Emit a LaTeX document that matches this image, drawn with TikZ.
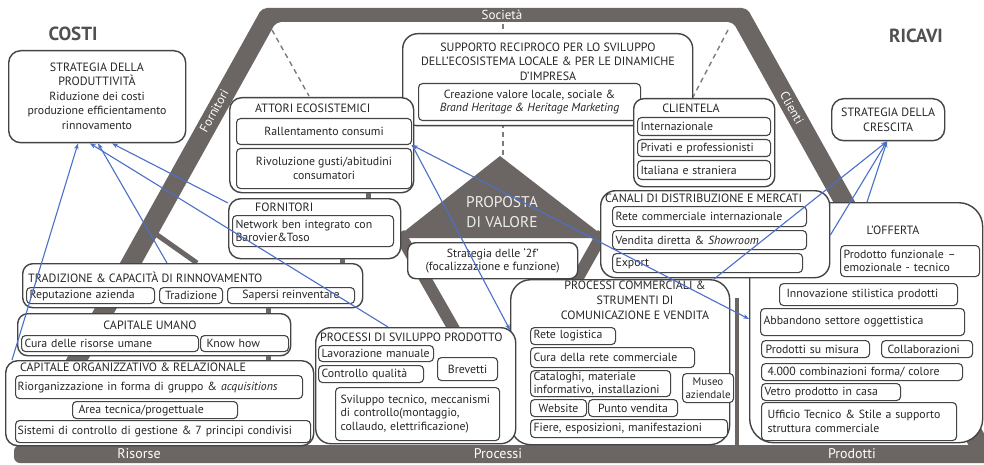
\documentclass[tikz,border=0pt]{standalone}
\usepackage{fontspec}
\setmainfont{PT Sans}
\usetikzlibrary{arrows.meta}
\definecolor{bandgray}{HTML}{6B6663}
\definecolor{ink}{HTML}{262626}
\definecolor{edgegray}{HTML}{444444}
\definecolor{flowblue}{HTML}{4A70C8}
\definecolor{guidegray}{HTML}{7C7C7C}
\definecolor{headgray}{HTML}{505050}
\newcommand{\fb}{\fontsize{11.8}{13.5}\selectfont}
\newcommand{\ft}{\fontsize{12}{14.5}\selectfont}
\begin{document}
\begin{tikzpicture}[x=1pt,y=-1pt,
  outer/.style={draw=edgegray, line width=1.4pt, fill=white, rounded corners=12pt, anchor=north west, inner sep=0pt},
  ib/.style={draw=edgegray, line width=1.1pt, fill=white, rounded corners=4pt, anchor=north west, inner xsep=3pt, inner ysep=0pt, font=\fb, text=ink},
  lb/.style={ib, align=left},
  cb/.style={ib, align=center},
  ttl/.style={font=\ft, text=ink, inner sep=0pt},
  bandtxt/.style={text=white, inner sep=0pt},
  flow/.style={draw=flowblue, line width=1.1pt, -{Stealth[length=6pt,width=4.5pt]}},
  guide/.style={draw=guidegray, line width=1.4pt, dash pattern=on 5pt off 4pt},
  tie/.style={draw=bandgray, line width=5pt}
]
\useasboundingbox (0,0) rectangle (984,465);
\fill[white] (0,0) rectangle (984,465);

% dashed guides from the top bar
\draw[guide] (272,30) -- (309,96);
\draw[guide] (503,24) -- (503,158);
\draw[guide] (728,30) -- (693,97);

% outer frame and base bar
\fill[bandgray, rounded corners=5pt] (13,455) -- (262,8) -- (747,8) -- (996,455) -- (974,455) -- (733,22) -- (276,22) -- (35,455) -- cycle;
\fill[bandgray, rounded corners=6pt] (14,445) rectangle (1000,463);
\draw[tie, line width=4.5pt] (737,298) -- (737,446);
\draw[tie] (153,232) -- (197,263);

% value proposition roof and legs
\fill[bandgray] (396,238) -- (500,156) -- (606,238) -- cycle;
\draw[bandgray, line width=12pt] (399,233) -- (466,350);
\draw[bandgray, line width=12pt] (603,233) -- (540,345);

% labels on the frame
\node[bandtxt, font=\fontsize{13}{13}\selectfont] (soc) at (502,15) {Società};
\node[bandtxt, font=\fontsize{12.5}{12}\selectfont, rotate=60.9] (forn) at (214,111) {Fornitori};
\node[bandtxt, font=\fontsize{12.5}{12}\selectfont, rotate=-60.9] (cli) at (792,108) {Clienti};
\node[bandtxt, font=\fontsize{14}{14}\selectfont] (ris) at (139,454) {Risorse};
\node[bandtxt, font=\fontsize{14}{14}\selectfont] (proc) at (498,454) {Processi};
\node[bandtxt, font=\fontsize{14}{14}\selectfont] (prodl) at (852,454) {Prodotti};
\node[bandtxt, text=white!93!black, font=\fontsize{15.5}{20}\selectfont, align=center] (pv) at (502,212) {PROPOSTA\\DI VALORE};

% headings
\node[font=\fontsize{19}{19}\selectfont\bfseries, text=headgray] (costi) at (73,34) {COSTI};
\node[font=\fontsize{19}{19}\selectfont\bfseries, text=headgray] (ricavi) at (916,36) {RICAVI};

% strategies
\node[outer, minimum width=177pt, minimum height=92pt] (prod) at (8,50) {};
\node[ttl, font=\fontsize{11.8}{14.5}\selectfont, align=center] (prodtxt) at (97,96) {{\ft STRATEGIA DELLA}\\{\ft PRODUTTIVITÀ}\\Riduzione dei costi\\produzione efficientamento\\rinnovamento};
\node[outer, minimum width=113pt, minimum height=42pt] (crescita) at (831,98) {};
\node[ttl, align=center, font=\fontsize{12}{15}\selectfont] (crestxt) at (crescita.center) {STRATEGIA DELLA\\CRESCITA};

% society support
\node[outer, rounded corners=15pt, minimum width=290pt, minimum height=92pt] (supporto) at (402,33) {};
\node[ttl, align=center] (suptxt) at (548,61.5) {SUPPORTO RECIPROCO PER LO SVILUPPO\\DELL’ECOSISTEMA LOCALE \& PER LE DINAMICHE\\D’IMPRESA};
\node[cb, minimum width=222pt, minimum height=37pt] (creaz) at (418,83) {Creazione valore locale, sociale \&\\\textit{Brand Heritage \& Heritage Marketing}};

% ecosystem actors
\node[outer, minimum width=184pt, minimum height=95pt] (attori) at (229,97) {};
\node[ttl, anchor=west] (attoritxt) at (255,108) {ATTORI ECOSISTEMICI};
\node[cb, minimum width=175pt, minimum height=26pt] (rallent) at (236,118) {Rallentamento consumi};
\node[cb, minimum width=175pt, minimum height=40pt] (rivol) at (236,148) {Rivoluzione gusti/abitudini\\consumatori};

% suppliers
\node[outer, minimum width=172pt, minimum height=60pt] (fornitori) at (228,198) {};
\node[ttl, anchor=west] (forntxt) at (255,207) {FORNITORI};
\node[lb, text width=155pt, minimum height=31pt] (network) at (232,215) {Network ben integrato con\\Barovier\&Toso};

% 2f strategy
\node[outer, rounded corners=8pt, minimum width=170pt, minimum height=36pt] (strat2f) at (407,242) {};
\node[ttl, font=\fb, align=center] (s2ftxt) at (strat2f.center) {Strategia delle ‘2f’\\(focalizzazione e funzione)};

% customers
\node[outer, rounded corners=10pt, minimum width=141pt, minimum height=88pt] (clientela) at (633,98) {};
\node[ttl] (clitxt) at (691,108) {CLIENTELA};
\node[lb, text width=127pt, minimum height=18pt] (intl) at (637,117) {Internazionale};
\node[lb, text width=127pt, minimum height=17pt] (privati) at (637,139) {Privati e professionisti};
\node[lb, text width=127pt, minimum height=19pt] (italiana) at (637,160) {Italiana e straniera};

% offer
\node[outer, rounded corners=24pt, minimum width=233pt, minimum height=240pt] (offerta) at (749,202) {};
\node[ttl] (offtxt) at (893,230) {L’OFFERTA};
\node[lb, text width=133pt, minimum height=31pt] (prodfunz) at (840,245) {Prodotto funzionale –\\emozionale - tecnico};
\node[lb, inner xsep=7pt, text width=164pt, minimum height=22pt] (innov) at (779,283) {Innovazione stilistica prodotti};
\node[lb, text width=198pt, minimum height=27pt] (abband) at (760,308) {Abbandono settore oggettistica};
\node[lb, inner xsep=4pt, text width=100pt, minimum height=17pt] (misura) at (761,340) {Prodotti su misura};
\node[lb, inner xsep=6pt, text width=79pt, minimum height=17pt] (collab) at (881,340) {Collaborazioni};
\node[lb, inner xsep=6pt, text width=189pt, minimum height=17pt] (combin) at (761,363) {4.000 combinazioni forma/ colore};
\node[lb, text width=133pt, minimum height=17pt] (vetro) at (761,383) {Vetro prodotto in casa};
\node[lb, inner xsep=6pt, text width=183pt, minimum height=38pt] (ufficio) at (761,402) {Ufficio Tecnico \& Stile a supporto\\struttura commerciale};

% commercial processes
\node[outer, rounded corners=20pt, minimum width=219pt, minimum height=165pt] (commerciali) at (510,279) {};
\node[ttl, align=center, font=\fontsize{12}{15}\selectfont] (comtxt) at (635,300) {PROCESSI COMMERCIALI \&\\STRUMENTI DI\\COMUNICAZIONE E VENDITA};
\node[lb, text width=79pt, minimum height=17pt] (retelog) at (530,327) {Rete logistica};
\node[lb, text width=158pt, minimum height=20pt] (curarete) at (530,347) {Cura della rete commerciale};
\node[lb, text width=134pt, minimum height=26pt] (catalog) at (530,370) {Cataloghi, materiale\\informativo, installazioni};
\node[cb, minimum width=51pt, minimum height=29pt, inner xsep=1pt, font=\fontsize{11}{13.5}\selectfont] (museo) at (682,373) {Museo\\aziendale};
\node[cb, minimum width=56pt, minimum height=17pt] (website) at (530,399) {Website};
\node[cb, minimum width=89pt, minimum height=17pt] (puntov) at (588,399) {Punto vendita};
\node[lb, text width=191pt, minimum height=18pt] (fiere) at (530,419) {Fiere, esposizioni, manifestazioni};

% distribution channels
\node[outer, rounded corners=15pt, minimum width=229pt, minimum height=87pt] (canali) at (600,190) {};
\node[ttl, anchor=west] (cantxt) at (605,198) {CANALI DI DISTRIBUZIONE E MERCATI};
\node[lb, text width=188pt, minimum height=20pt] (retecomm) at (612,206) {Rete commerciale internazionale};
\node[lb, text width=188pt, minimum height=19pt] (vendita) at (612,230) {Vendita diretta \& \textit{Showroom}};
\node[lb, text width=184pt, minimum height=19pt] (export) at (612,253) {Export};

% tradition
\node[outer, rounded corners=10pt, minimum width=340pt, minimum height=44pt] (tradizione) at (22,263) {};
\node[ttl, anchor=west] (tradtxt) at (28,277) {TRADIZIONE \& CAPACITÀ DI RINNOVAMENTO};
\node[lb, text width=122pt, minimum height=16pt] (reput) at (26,287) {Reputazione azienda};
\node[cb, minimum width=63pt, minimum height=16pt] (tradiz) at (159,287) {Tradizione};
\node[cb, minimum width=127pt, minimum height=16pt] (sapersi) at (227,287) {Sapersi reinventare};

% human capital
\node[outer, rounded corners=10pt, minimum width=273pt, minimum height=42pt] (umano) at (17,313) {};
\node[ttl] (umtxt) at (150,325) {CAPITALE UMANO};
\node[lb, text width=171pt, minimum height=16pt] (curaris) at (21,335) {Cura delle risorse umane};
\node[lb, inner xsep=6pt, text width=76pt, minimum height=16pt] (knowhow) at (200,335) {Know how};

% organisational capital
\node[outer, minimum width=308pt, minimum height=85pt] (organ) at (5,360) {};
\node[ttl, anchor=west] (orgtxt) at (20,367) {CAPITALE ORGANIZZATIVO \& RELAZIONALE};
\node[lb, inner xsep=2pt, text width=283pt, minimum height=23pt] (riorg) at (15,375) {Riorganizzazione in forma di gruppo \& \textit{acquisitions}};
\node[lb, inner xsep=6pt, text width=153pt, minimum height=17pt] (areatec) at (72,401) {Area tecnica/progettuale};
\node[lb, inner xsep=2pt, text width=291pt, minimum height=22pt] (sistemi) at (15,420) {Sistemi di controllo di gestione \& 7 principi condivisi};

% product development
\node[outer, rounded corners=15pt, minimum width=200pt, minimum height=116pt] (sviluppo) at (315,327) {};
\node[ttl, anchor=west] (svtxt) at (320,337) {PROCESSI DI SVILUPPO PRODOTTO};
\node[lb, text width=109pt, minimum height=16pt] (lavoraz) at (318,345) {Lavorazione manuale};
\node[lb, text width=99pt, minimum height=17pt] (controllo) at (318,365) {Controllo qualità};
\node[cb, minimum width=60pt, minimum height=23pt] (brevetti) at (437,357) {Brevetti};
\node[lb, inner xsep=5pt, text width=154pt, minimum height=53pt] (svtec) at (335,387) {Sviluppo tecnico, meccanismi\\di controllo(montaggio,\\collaudo, elettrificazione)};

% short ties between stacked blocks
\draw[tie] ([xshift=139pt]attori.south west) -- ([xshift=140pt]fornitori.north west);
\draw[tie] ([xshift=114pt]fornitori.south west) -- ([xshift=320pt]tradizione.north west);
\draw[tie] ([xshift=246pt]tradizione.south west) -- ([xshift=251pt]umano.north west);
\draw[tie] ([xshift=251pt]umano.south west) -- ([xshift=263pt]organ.north west);

% links
\draw[flow] ([xshift=7pt]organ.north west) -- ([xshift=70pt]prod.south west);
\draw[flow] ([xshift=145pt]tradizione.north west) -- ([xshift=90pt]prod.south west);
\draw[flow] ([xshift=73pt]sviluppo.north west) -- ([xshift=82pt]prod.south west);
\draw[flow] ([yshift=-5pt]fornitori.north west) -- ([xshift=104pt]prod.south west);
\draw[flow] (rallent.south east) -- ([yshift=-51pt]commerciali.north west);
\draw[flow, {Stealth[length=6pt,width=4.5pt]}-{Stealth[length=6pt,width=4.5pt]}] (rallent.south east) -- ([yshift=-117pt]offerta.north west);
\draw[flow] ([xshift=204pt]commerciali.north west) -- ([xshift=56pt]crescita.south west);
\draw[flow] ([yshift=-45pt]canali.north east) -- ([xshift=56pt]crescita.south west);
\draw[flow] ([xshift=118pt]offerta.north west) -- ([xshift=56pt]crescita.south west);
\end{tikzpicture}
\end{document}
